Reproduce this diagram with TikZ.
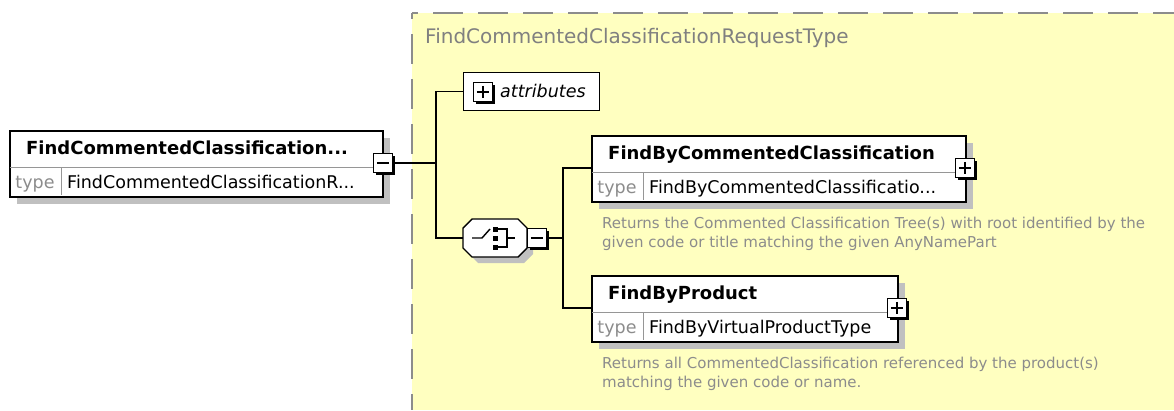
\documentclass[tikz,border=0pt]{standalone}
\usepackage{fontspec}
\setmainfont{DejaVu Sans}
\usetikzlibrary{shadows}
\definecolor{bgyellow}{RGB}{255,255,192}
\definecolor{dashgray}{RGB}{140,140,140}
\definecolor{shadowgray}{RGB}{192,192,192}
\definecolor{titlegray}{RGB}{128,128,128}
\definecolor{descgray}{RGB}{140,140,140}
\definecolor{divgray}{RGB}{150,150,150}
\definecolor{typegray}{RGB}{140,140,140}
\tikzset{
 elembox/.style={draw=black, line width=1.6pt, fill=white, inner sep=0pt, anchor=north west, minimum height=66pt,
   drop shadow={shadow xshift=7pt, shadow yshift=-7pt, fill=shadowgray, opacity=1}},
 divline/.style={draw=divgray, line width=1pt},
 hdrtext/.style={font=\fontsize{18}{22}\selectfont\bfseries, inner sep=0pt, anchor=base west},
 typelbl/.style={font=\fontsize{17.5}{21}\selectfont, text=typegray, inner sep=0pt, anchor=base},
 typeval/.style={font=\fontsize{17.5}{21}\selectfont, inner sep=0pt, anchor=base west},
 desctext/.style={font=\fontsize{15}{19}\selectfont, text=descgray, inner sep=0pt, anchor=base west},
 titletext/.style={font=\fontsize{20}{24}\selectfont, text=titlegray, inner sep=0pt, anchor=base west},
 conn/.style={draw=black, line width=1.4pt},
 pmbox/.style={draw=black, fill=white, line width=1.3pt, minimum width=19pt, minimum height=19pt, inner sep=0pt,
   drop shadow={shadow xshift=2pt, shadow yshift=-2pt, fill=black, opacity=1}},
 signline/.style={draw=black, line width=1.4pt},
 dashborder/.style={draw=dashgray, line width=1.8pt, dash pattern=on 30pt off 15pt, dash phase=24pt},
 octo/.style={draw=black, fill=white, line width=1.4pt},
}
\newcommand{\xmlel}[6]{%
 \node[elembox, minimum width=#4pt] (#1) at (#2,#3) {};
 \draw[divline] ({#2+0.8},{#3+37}) -- ({#2+#4-0.8},{#3+37});
 \draw[divline] ({#2+52},{#3+37}) -- ({#2+52},{#3+65.2});
 \node[hdrtext] (#1-t) at ({#2+17},{#3+24}) {#5};
 \node[typelbl] (#1-k) at ({#2+26},{#3+58}) {type};
 \node[typeval] (#1-v) at ({#2+58},{#3+58}) {#6};
}
\newcommand{\minussgn}[1]{\draw[signline] ([xshift=4pt]#1.west) -- ([xshift=-4pt]#1.east);}
\newcommand{\plussgn}[1]{\draw[signline] ([xshift=4pt]#1.west) -- ([xshift=-4pt]#1.east);
 \draw[signline] ([yshift=-4pt]#1.north) -- ([yshift=4pt]#1.south);}
\begin{document}
\begin{tikzpicture}[x=1pt,y=-1pt]
\useasboundingbox (0,0) rectangle (1174,410);
% complex type area
\fill[bgyellow] (412,13) rectangle (1174,410);
\draw[dashborder] (412,13) -- (1174,13);
\draw[dashborder] (412,13) -- (412,410);
\node[titletext] (ctype) at (425,43) {FindCommentedClassificationRequestType};

% root element
\xmlel{root}{9}{130}{373}{FindCommentedClassification...}{FindCommentedClassificationR...}
\node[pmbox] (rootsign) at (383,163) {};
\minussgn{rootsign}

% attributes
\node[draw=black, line width=1.4pt, fill=white, minimum width=136pt, minimum height=38pt, anchor=north west, inner sep=0pt] (attrs) at (463,72) {};
\node[pmbox] (attrsign) at (483,92) {};
\plussgn{attrsign}
\node[font=\fontsize{17.5}{21}\selectfont\itshape, inner sep=0pt, anchor=base west] (attrtext) at (500,97) {attributes};

% choice
\node[inner sep=0pt, minimum width=64pt, minimum height=38pt] (choice) at (495,238) {};
\fill[shadowgray] (478,225) -- (524,225) -- (533,234) -- (533,254) -- (524,263) -- (478,263) -- (469,254) -- (469,234) -- cycle;
\draw[octo] (472,219) -- (518,219) -- (527,228) -- (527,248) -- (518,257) -- (472,257) -- (463,248) -- (463,228) -- cycle;
\draw[line width=1.4pt] (472,238) -- (482,238) -- (490,229);
\fill (492.5,226.5) rectangle (497.5,231.5);
\fill (492.5,235.5) rectangle (497.5,240.5);
\fill (492.5,244.5) rectangle (497.5,249.5);
\draw[line width=1.3pt] (497,229) -- (507,229) -- (507,247) -- (497,247);
\draw[line width=1.3pt] (507,238) -- (515,238);
\node[pmbox] (choicesign) at (537,238) {};
\minussgn{choicesign}

% children
\xmlel{fbcc}{591}{135}{374}{FindByCommentedClassification}{FindByCommentedClassificatio...}
\node[pmbox] (fbccsign) at (965,168) {};
\plussgn{fbccsign}
\node[desctext] (d1a) at (602,228) {Returns the Commented Classification Tree(s) with root identified by the};
\node[desctext] (d1b) at (602,247) {given code or title matching the given AnyNamePart};

\xmlel{fbp}{591}{275}{306}{FindByProduct}{FindByVirtualProductType}
\node[pmbox] (fbpsign) at (897,308) {};
\plussgn{fbpsign}
\node[desctext] (d2a) at (602,368) {Returns all CommentedClassification referenced by the product(s)};
\node[desctext] (d2b) at (602,387) {matching the given code or name.};

% connectors
\coordinate (j1) at (436,163);
\coordinate (j2) at (563,238);
\draw[conn] (rootsign.east) -- (j1);
\draw[conn] (j1) |- (attrs.west);
\draw[conn] (j1) |- (choice.west);
\draw[conn] (choicesign.east) -- (j2);
\draw[conn] (j2) |- (fbcc.west |- fbccsign);
\draw[conn] (j2) |- (fbp.west |- fbpsign);
\end{tikzpicture}
\end{document}
